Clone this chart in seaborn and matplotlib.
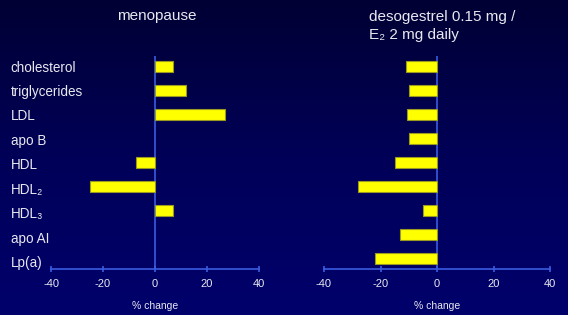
import matplotlib
matplotlib.use("Agg")
import matplotlib.pyplot as plt
import seaborn as sns
import numpy as np
import pandas as pd
from matplotlib.colors import LinearSegmentedColormap

categories = ["cholesterol", "triglycerides", "LDL", "apo B", "HDL",
              "HDL\u2082", "HDL\u2083", "apo AI", "Lp(a)"]
menopause = [7, 12, 27, np.nan, -7.5, -25, 7, np.nan, np.nan]
desogestrel = [-11, -10, -10.5, -10, -15, -28, -5, -13, -22]
xticks = [-40, -20, 0, 20, 40]
title_left = "menopause"
title_right = "desogestrel 0.15 mg /\nE\u2082 2 mg daily"
xlabel = "% change"

sns.set_theme(style="white")
plt.rcParams['font.family'] = ['Liberation Sans', 'DejaVu Sans']

fig = plt.figure(figsize=(5.68, 3.15), dpi=100)

# background gradient
bg = fig.add_axes([0, 0, 1, 1], zorder=-10)
cmap = LinearSegmentedColormap.from_list("bg", ["#000034", "#000058", "#00006c"])
bg.imshow(np.linspace(0, 1, 256).reshape(-1, 1), aspect="auto", cmap=cmap,
          extent=[0, 1, 0, 1])
bg.set_axis_off()

axcol = "#3a5ce0"
txtcol = "#e8e8f0"

def panel(rect, values, title, title_kw):
    ax = fig.add_axes(rect)
    ax.patch.set_alpha(0)
    df = pd.DataFrame({"cat": categories, "val": values})
    sns.barplot(data=df, y="cat", x="val", order=categories, orient="h",
                color="#ffff00", edgecolor="#9a9a20", linewidth=0.8,
                width=0.46, saturation=1, ax=ax, errorbar=None)
    ax.set_xlim(-40, 40)
    ax.set_ylim(8.46, -0.46)
    ax.axvline(0, color=axcol, lw=1.2, zorder=0)
    for s in ["top", "right", "left"]:
        ax.spines[s].set_visible(False)
    ax.spines["bottom"].set_color(axcol)
    ax.spines["bottom"].set_linewidth(1.2)
    ax.set_xticks(xticks)
    ax.set_xticklabels([str(t) for t in xticks], color=txtcol, fontsize=8)
    ax.tick_params(axis="x", direction="inout", length=5, width=1.2,
                   color=axcol, pad=5, bottom=True)
    ax.set_xlabel(xlabel, color=txtcol, fontsize=7.5, labelpad=8)
    ax.set_ylabel("")
    ax.text(s=title, color=txtcol, fontsize=11, transform=fig.transFigure, **title_kw)
    return ax

axL = panel([51/568, 46/315, 208/568, 213/315], menopause, title_left,
            dict(x=157/568, y=1-16/315, ha="center", va="center"))
label_pos = [i * 1.025 - 0.04 for i in range(len(categories))]
axL.set_yticks(label_pos)
axL.set_yticklabels(categories, color=txtcol, fontsize=9.75, ha="left")
axL.tick_params(axis="y", left=False, pad=23)

axR = panel([324/568, 46/315, 226/568, 213/315], desogestrel, title_right,
            dict(x=369/568, y=1-26/315, ha="left", va="center", linespacing=1.35))
axR.set_yticks(range(len(categories)))
axR.set_yticklabels([])
axR.tick_params(axis="y", left=False)

fig.savefig("out.png", dpi=100)
